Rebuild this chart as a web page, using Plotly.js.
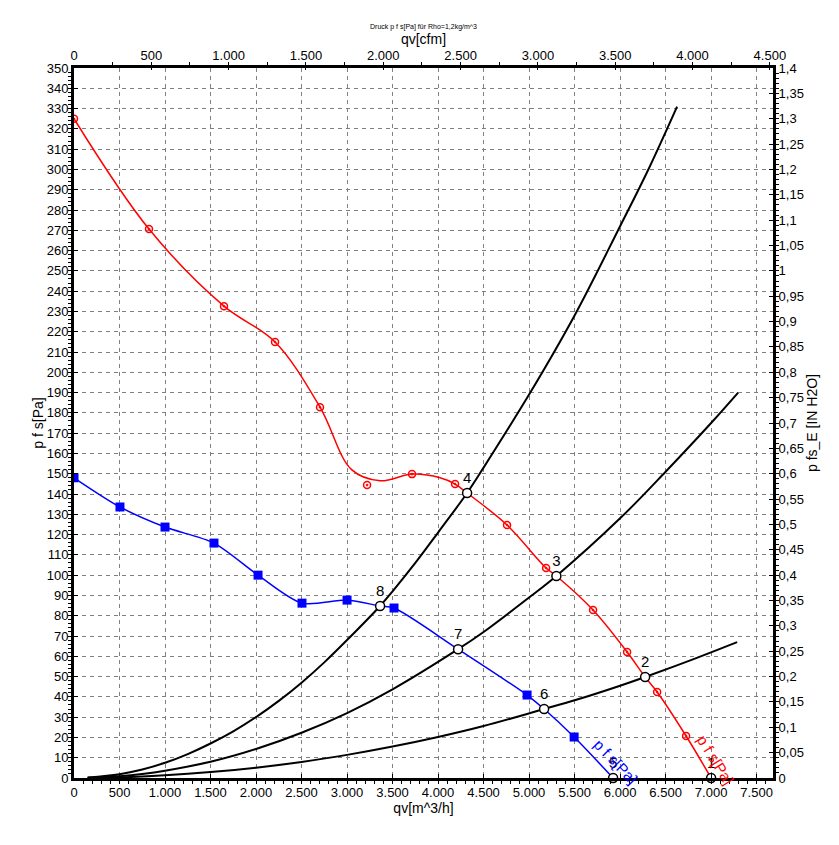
<!DOCTYPE html>
<html>
<head>
<meta charset="utf-8">
<script src="https://cdn.plot.ly/plotly-3.0.1.min.js"></script>
<style>
  html, body { margin: 0; padding: 0; background: #fff; }
  #chart { width: 839px; height: 845px; }
</style>
</head>
<body>
<div id="chart"></div>
<script>
// ---- data ----
const redLineQ = [0, 824, 1648, 2209, 2703, 3050, 3363, 3714, 4022, 4187, 4319, 4758, 5187, 5300, 5703, 6077, 6275, 6407, 6725, 7000];
const redLineP = [325, 270.6, 232.6, 214.9, 182.8, 152, 146.5, 149.8, 148, 144.9, 140.5, 124.7, 103.5, 99.6, 82.8, 62.1, 49.8, 42.4, 20.7, 0];
const redMarkQ = [0, 824, 1648, 2209, 2703, 3220, 3714, 4187, 4758, 5187, 5703, 6077, 6407, 6725];
const redMarkP = [325, 270.6, 232.6, 214.9, 182.8, 144.4, 149.8, 144.9, 124.7, 103.5, 82.8, 62.1, 42.4, 20.7];

const blueLineQ = [0, 505, 1000, 1538, 2022, 2505, 3000, 3363, 3516, 4220, 4978, 5165, 5495, 5923];
const blueLineP = [148, 133.6, 123.7, 115.8, 100, 86.2, 87.7, 84.8, 83.8, 63.5, 40.9, 34, 20.2, 0];
const blueMarkQ = [0, 505, 1000, 1538, 2022, 2505, 3000, 3516, 4978, 5495];
const blueMarkP = [148, 133.6, 123.7, 115.8, 100, 86.2, 87.7, 83.8, 40.9, 20.2];

const sysAQ = [150, 500, 750, 1000, 1250, 1500, 1750, 2000, 2250, 2500, 2750, 3000, 3363, 3500, 3750, 4000, 4319, 4500, 5000, 5500, 6000, 6300, 6626];
const sysAP = [0.2, 1.9, 4.2, 7.5, 11.8, 17, 23, 30, 38, 47, 57, 68, 84.8, 92, 106, 121, 140.5, 153, 189, 228, 272, 299, 331];
const sysBQ = [150, 500, 750, 1000, 1500, 2000, 2500, 3000, 3500, 4220, 4500, 5000, 5300, 6000, 6500, 7000, 7297];
const sysBP = [0.1, 0.9, 2, 3.6, 8, 14.3, 22.3, 32, 43.7, 63.5, 72, 89, 99.6, 128, 151, 175, 190];
const sysCQ = [150, 500, 1000, 1500, 2000, 2500, 3000, 3500, 4000, 4500, 5165, 5500, 6000, 6275, 6800, 7286];
const sysCP = [0, 0.3, 1.3, 2.9, 5.1, 7.9, 11.4, 15.5, 20.2, 25.6, 34, 38.3, 45.5, 49.8, 58.5, 67];

const opLabels = ['1', '2', '3', '4', '5', '6', '7', '8'];
const opQ = [7000, 6275, 5300, 4319, 5923, 5165, 4220, 3363];
const opP = [0, 49.8, 99.6, 140.5, 0, 34, 63.5, 84.8];

const curveLabel = 'p f s[Pa]';
const titleText = 'Druck p f s[Pa] für Rho=1,2kg/m^3';

// ---- chart ----
const FONT = 'Liberation Sans, Arial, sans-serif';
const qMax = 7680;           // m^3/h at right edge
const m3hPerCfm = 1.699;

const sysLine = {color: '#000', width: 2, shape: 'spline', smoothing: 1};

const traces = [
  {x: sysAQ, y: sysAP, mode: 'lines', line: sysLine, hoverinfo: 'skip', showlegend: false},
  {x: sysBQ, y: sysBP, mode: 'lines', line: sysLine, hoverinfo: 'skip', showlegend: false},
  {x: sysCQ, y: sysCP, mode: 'lines', line: sysLine, hoverinfo: 'skip', showlegend: false},
  {x: redLineQ, y: redLineP, mode: 'lines', line: {color: '#ff0000', width: 1.5, shape: 'spline', smoothing: 1}, showlegend: false},
  {x: redMarkQ, y: redMarkP, mode: 'markers', marker: {symbol: 'circle-open-dot', size: 7, color: '#ff0000', line: {width: 1.5, color: '#ff0000'}}, showlegend: false},
  {x: blueLineQ, y: blueLineP, mode: 'lines', line: {color: '#0000ff', width: 1.5, shape: 'spline', smoothing: 0.8}, showlegend: false},
  {x: blueMarkQ, y: blueMarkP, mode: 'markers', marker: {symbol: 'square', size: 9, color: '#0000ff'}, showlegend: false},
  {x: opQ, y: opP, text: opLabels, mode: 'markers+text', textposition: 'top center',
   textfont: {family: FONT, size: 15, color: '#000'},
   marker: {symbol: 'circle', size: 9, color: '#fff', line: {color: '#000', width: 1.5}}, showlegend: false, cliponaxis: false},
  // carrier for the secondary axes (cfm / inH2O)
  {x: [0], y: [0], xaxis: 'x2', yaxis: 'y2', mode: 'markers', marker: {opacity: 0}, hoverinfo: 'skip', showlegend: false}
];

const grid = {showgrid: true, gridcolor: '#808080', gridwidth: 1, griddash: '4px,4px'};

const layout = {
  width: 839, height: 845,
  margin: {l: 74, r: 66, t: 68, b: 67},
  paper_bgcolor: '#fff', plot_bgcolor: '#fff',
  separators: ',.',
  font: {family: FONT, size: 13, color: '#000'},
  title: {text: titleText, font: {family: FONT, size: 7, color: '#000'}, x: 0.5, xref: 'paper', y: 0.969, yref: 'container', yanchor: 'middle'},
  xaxis: Object.assign({
    range: [0, qMax], dtick: 500, tick0: 0, tickformat: ',d',
    showline: true, linecolor: '#000', linewidth: 3,
    ticks: 'inside', ticklen: 4, tickcolor: '#000', tickwidth: 1,
    minor: {dtick: 100, ticks: 'outside', ticklen: 3, tickcolor: '#000', showgrid: false},
    zeroline: false, fixedrange: true,
    tickfont: {family: FONT, size: 13, color: '#000'},
    title: {text: 'qv[m^3/h]', font: {family: FONT, size: 14, color: '#000'}, standoff: 2}
  }, grid),
  yaxis: Object.assign({
    range: [0, 350], dtick: 10, tick0: 0,
    showline: true, linecolor: '#000', linewidth: 3,
    ticks: 'inside', ticklen: 4, tickcolor: '#000', tickwidth: 1,
    minor: {dtick: 2, ticks: 'outside', ticklen: 3, tickcolor: '#000', showgrid: false},
    zeroline: false, fixedrange: true,
    tickfont: {family: FONT, size: 13, color: '#000'},
    title: {text: 'p f s[Pa]', font: {family: FONT, size: 14, color: '#000'}, standoff: 0}
  }, grid),
  xaxis2: {
    overlaying: 'x', side: 'top', anchor: 'y',
    range: [0, qMax / m3hPerCfm], dtick: 500, tick0: 0, tickformat: ',d',
    showline: true, linecolor: '#000', linewidth: 3, showgrid: false, zeroline: false,
    ticks: 'inside', ticklen: 2, tickcolor: '#000',
    minor: {dtick: 250, ticks: 'outside', ticklen: 3, tickcolor: '#000', showgrid: false},
    tickfont: {family: FONT, size: 13, color: '#000'},
    title: {text: 'qv[cfm]', font: {family: FONT, size: 14, color: '#000'}, standoff: 0},
    fixedrange: true
  },
  yaxis2: {
    overlaying: 'y', side: 'right', anchor: 'x',
    range: [0, 1.4], dtick: 0.05, tick0: 0,
    showline: true, linecolor: '#000', linewidth: 3, showgrid: false, zeroline: false,
    ticks: 'inside', ticklen: 4, tickcolor: '#000',
    minor: {dtick: 0.01, ticks: 'outside', ticklen: 3, tickcolor: '#000', showgrid: false},
    tickfont: {family: FONT, size: 13, color: '#000'},
    title: {text: 'p fs_E [IN H2O]', font: {family: FONT, size: 14, color: '#000'}, standoff: 0},
    fixedrange: true
  },
  annotations: [
    {x: 5950, y: 8, xref: 'x', yref: 'y', text: curveLabel, showarrow: false, textangle: 46,
     font: {family: FONT, size: 15, color: '#0000ff'}},
    {x: 7045, y: 9, xref: 'x', yref: 'y', text: curveLabel, showarrow: false, textangle: 58,
     font: {family: FONT, size: 15, color: '#ff0000'}}
  ]
};

Plotly.newPlot('chart', traces, layout, {staticPlot: true, displayModeBar: false});
</script>
</body>
</html>
